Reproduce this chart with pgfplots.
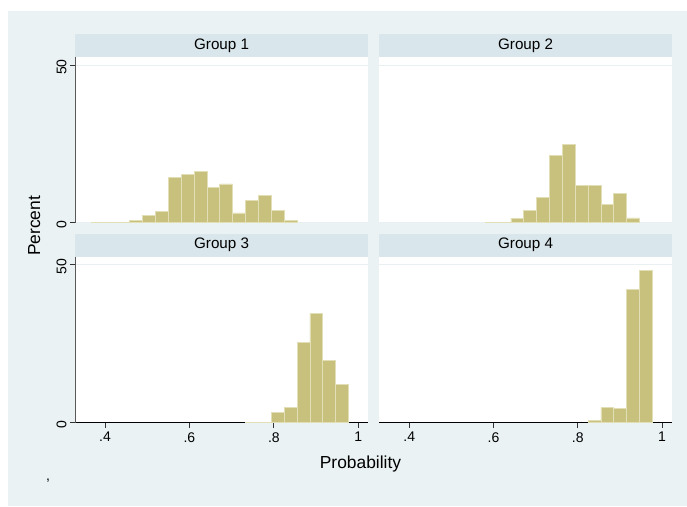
\documentclass[border=0pt]{standalone}
\usepackage{pgfplots}
\pgfplotsset{compat=1.18}
\usepackage{fontspec}
\setmainfont{Liberation Sans}
\definecolor{bgc}{RGB}{234,242,243}
\definecolor{stripc}{RGB}{217,230,235}
\definecolor{barc}{RGB}{200,193,126}
\definecolor{baredge}{RGB}{226,222,182}
\definecolor{gridc}{RGB}{232,240,242}
\pgfplotsset{
  panel/.style={
    scale only axis, xmin=0.329, xmax=1.0237, ymin=0, ymax=52.6,
    anchor=south west,
    axis background/.style={fill=white},
    ytick={0,50}, ymajorgrids, grid style={draw=gridc, line width=1pt},
    tick align=outside, major tick length=5pt,
    tick style={line width=0.8pt, color=black!80},
    ticklabel style={font=\fontsize{14}{16}\selectfont},
    /pgf/number format/assume math mode=true,
    axis y line*=left, axis x line*=bottom,
    every axis x line/.append style={-},
    every axis y line/.append style={-},
  },
  toprow/.style={x axis line style={draw=none}, xtick=\empty},
  botrow/.style={x axis line style={draw=black, line width=1pt, -},
    xtick={0.4,0.6,0.8,1}, xticklabels={.4,.6,.8,1},
    xticklabel style={yshift=-1pt}},
  leftcol/.style={y axis line style={draw=black!65, line width=1pt, -},
    yticklabel style={rotate=90, anchor=south, xshift=-2pt}},
  rightcol/.style={y axis line style={draw=none}, yticklabels={}, ytick style={draw=none}},
  bars/.style={ybar interval, fill=barc, draw=baredge, line width=0.8pt},
}
\begin{document}
\begin{tikzpicture}
\path (0pt,0pt) rectangle (687pt,506pt);
\fill[bgc] (8pt,0pt) rectangle (687pt,495pt);
% strips
\fill[stripc] (75pt,449pt) rectangle (368.3pt,472pt);
\fill[stripc] (379.3pt,449pt) rectangle (672pt,472pt);
\fill[stripc] (75pt,249.3pt) rectangle (368.3pt,272pt);
\fill[stripc] (379.3pt,249.3pt) rectangle (672pt,272pt);
\node[font=\fontsize{15.2}{17}\selectfont] at (221.6pt,460.5pt) {Group 1};
\node[font=\fontsize{15.2}{17}\selectfont] at (525.6pt,460.5pt) {Group 2};
\node[font=\fontsize{15.2}{17}\selectfont] at (221.6pt,260.8pt) {Group 3};
\node[font=\fontsize{15.2}{17}\selectfont] at (525.6pt,260.8pt) {Group 4};

% Group 1
\begin{axis}[panel, toprow, leftcol, at={(75pt,283.3pt)}, width=293.3pt, height=165.7pt]
\addplot[bars] coordinates {
(0.367,0.2) (0.3975,0.2) (0.428,0.2) (0.4585,0.7) (0.489,2.3) (0.5195,3.6)
(0.55,14.4) (0.5805,15.2) (0.611,16.2) (0.6415,11.2) (0.672,12.3) (0.7025,3.1)
(0.733,7.1) (0.7635,8.7) (0.794,3.9) (0.8245,0.7) (0.855,0)};
\end{axis}
% Group 2
\begin{axis}[panel, toprow, rightcol, at={(379.3pt,283.3pt)}, width=292.7pt, height=165.7pt]
\addplot[bars] coordinates {
(0.5805,0.2) (0.611,0.2) (0.6415,1.4) (0.672,4.0) (0.7025,8.1) (0.733,21.4)
(0.7635,24.9) (0.794,11.7) (0.8245,11.9) (0.855,5.7) (0.8855,9.4) (0.916,1.5)
(0.9465,0)};
\end{axis}
% Group 3
\begin{axis}[panel, botrow, leftcol, at={(75pt,83.3pt)}, width=293.3pt, height=166pt]
\addplot[bars] coordinates {
(0.733,0.2) (0.7635,0.2) (0.794,3.3) (0.8245,4.9) (0.855,25.4) (0.8855,34.6)
(0.916,19.7) (0.9465,12.1) (0.977,0)};
\end{axis}
% Group 4
\begin{axis}[panel, botrow, rightcol, at={(379.3pt,83.3pt)}, width=292.7pt, height=166pt]
\addplot[bars] coordinates {
(0.8245,0.6) (0.855,4.7) (0.8855,4.4) (0.916,42.3) (0.9465,48.3) (0.977,0)};
\end{axis}

\node[font=\fontsize{17.4}{20}\selectfont, anchor=base] at (360.5pt,38pt) {Probability};
\node[font=\fontsize{17.4}{20}\selectfont, anchor=base, rotate=90] at (40pt,280pt) {Percent};
\node[font=\fontsize{14}{16}\selectfont, anchor=base] at (48pt,26pt) {,};
\end{tikzpicture}
\end{document}
